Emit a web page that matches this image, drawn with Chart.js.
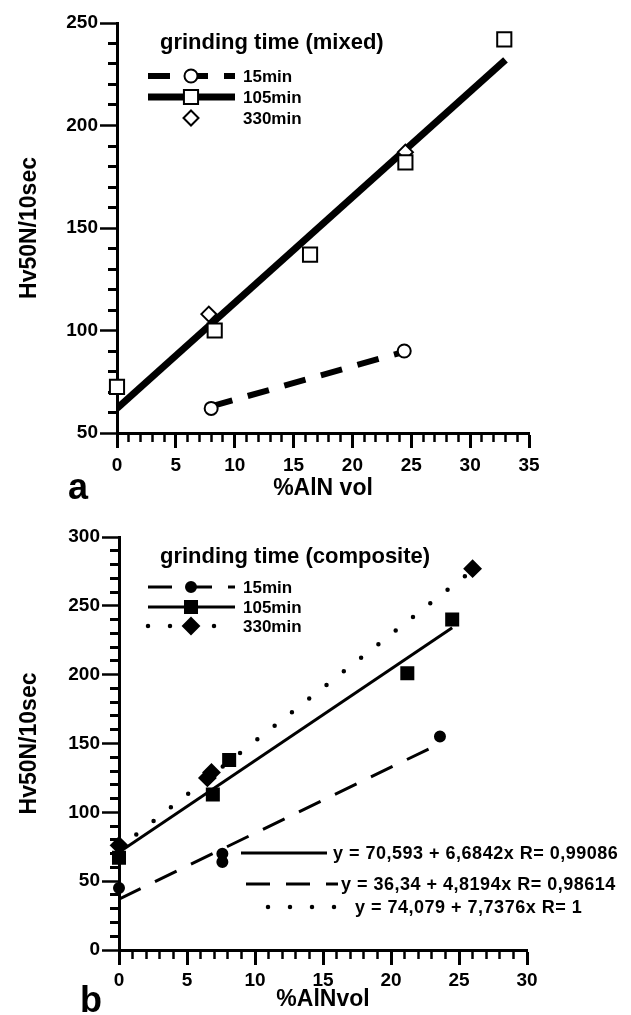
<!DOCTYPE html>
<html>
<head>
<meta charset="utf-8">
<script src="https://cdn.jsdelivr.net/npm/chart.js@4.4.0/dist/chart.umd.min.js"></script>
<style>
  body { margin: 0; background: #fff; width: 631px; height: 1015px; overflow: hidden; position: relative; }
  .panel { position: absolute; left: 0; width: 631px; height: 505px; }
  #wrapA { top: 0; }
  #wrapB { top: 508px; }
</style>
</head>
<body>
<div class="panel" id="wrapA"><canvas id="chartA" width="631" height="505"></canvas></div>
<div class="panel" id="wrapB"><canvas id="chartB" width="631" height="505"></canvas></div>
<script>
// panel a: mixed powders
const mixedX15 = [8, 24.4];
const mixedY15 = [62, 90];
const mixedX105 = [0, 8.3, 16.4, 24.5, 32.9];
const mixedY105 = [72.5, 100, 137, 182, 242];
const mixedX330 = [7.8, 24.5];
const mixedY330 = [108, 187];
const mixedFit15 = [[8, 63], [24, 89]];
const mixedFit105 = [[0, 62], [33, 232]];

// panel b: composite powders
const compX15 = [0, 7.6, 7.6, 23.6];
const compY15 = [45, 70, 64, 155];
const compX105 = [0, 6.9, 8.1, 21.2, 24.5];
const compY105 = [67, 113, 138, 201, 240];
const compX330 = [0, 6.5, 6.8, 26];
const compY330 = [76, 125, 129, 277];
const compFit15 = [[0, 37], [23.6, 150]];
const compFit105 = [[0, 71], [24.5, 234]];
const compFit330 = [[0, 74], [26, 276]];

const seriesLabels = ['15min', '105min', '330min'];
const fitEquations = [
    'y = 70,593 + 6,6842x R= 0,99086',
    'y = 36,34 + 4,8194x R= 0,98614',
    'y = 74,079 + 7,7376x R= 1'
];

const FONT = '"Liberation Sans", Arial, Helvetica, sans-serif';

const toPoints = (xs, ys) => xs.map((x, i) => ({ x: x, y: ys[i] }));
const toLine = pairs => pairs.map(p => ({ x: p[0], y: p[1] }));

function pointSet(label, data, style, radius, fill) {
    return {
        label: label, data: data, showLine: false, clip: false, order: 0,
        pointStyle: style, pointRadius: radius, pointHoverRadius: radius,
        pointBackgroundColor: fill, pointBorderColor: '#000', pointBorderWidth: 2
    };
}

function fitSet(label, data, width, dash, cap) {
    return {
        label: label, data: data, showLine: true, order: 1,
        pointRadius: 0, borderColor: '#000', borderWidth: width,
        borderDash: dash, borderCapStyle: cap || 'butt', tension: 0, fill: false
    };
}

function drawMarker(ctx, ds, x, y) {
    const r = ds.pointRadius;
    ctx.save();
    ctx.setLineDash([]);
    ctx.beginPath();
    if (ds.pointStyle === 'circle') {
        ctx.arc(x, y, r, 0, Math.PI * 2);
    } else if (ds.pointStyle === 'rect') {
        const h = r * Math.SQRT1_2;
        ctx.rect(x - h, y - h, 2 * h, 2 * h);
    } else {
        ctx.moveTo(x, y - r); ctx.lineTo(x + r, y); ctx.lineTo(x, y + r); ctx.lineTo(x - r, y); ctx.closePath();
    }
    ctx.fillStyle = ds.pointBackgroundColor;
    ctx.fill();
    ctx.lineWidth = ds.pointBorderWidth;
    ctx.strokeStyle = '#000';
    ctx.stroke();
    ctx.restore();
}

function drawSample(ctx, ds, x1, x2, y) {
    ctx.save();
    ctx.strokeStyle = '#000';
    ctx.lineWidth = ds.borderWidth;
    ctx.lineCap = ds.borderCapStyle || 'butt';
    ctx.setLineDash(ds.borderDash || []);
    ctx.beginPath();
    ctx.moveTo(x1, y);
    ctx.lineTo(x2, y);
    ctx.stroke();
    ctx.restore();
}

// legend, panel letter and fit equations drawn on top of the chart
function makeOverlay(cfg) {
    return {
        id: 'overlay' + cfg.letter,
        afterDraw(chart) {
            const ctx = chart.ctx;
            const sets = chart.data.datasets;
            ctx.save();
            ctx.fillStyle = '#000';
            ctx.textBaseline = 'middle';
            ctx.textAlign = 'left';
            ctx.font = 'bold 22px ' + FONT;
            ctx.fillText(cfg.title, 160, cfg.titleY);

            cfg.entries.forEach(e => {
                if (e.line !== null) drawSample(ctx, sets[e.line], 148, 235, e.y);
                drawMarker(ctx, sets[e.points], 191, e.y);
                ctx.fillStyle = '#000';
                ctx.font = 'bold 17px ' + FONT;
                ctx.fillText(sets[e.points].label, 243, e.y + 1);
            });

            (cfg.equations || []).forEach(e => {
                drawSample(ctx, sets[e.line], e.x1, e.x2, e.y);
                ctx.fillStyle = '#000';
                ctx.font = 'bold 18px ' + FONT;
                ctx.letterSpacing = '0.5px';
                ctx.fillText(e.text, e.tx, e.y + 1);
                ctx.letterSpacing = '0px';
            });

            ctx.font = 'bold 36px ' + FONT;
            ctx.textBaseline = 'alphabetic';
            ctx.fillText(cfg.letter, cfg.letterX, cfg.letterY);
            ctx.restore();
        }
    };
}

function scaleOptions(cfg) {
    const tickFont = { family: FONT, size: 19, weight: 'bold' };
    const titleFont = { family: FONT, size: 23, weight: 'bold', lineHeight: 1.2 };
    return {
        x: {
            type: 'linear', min: 0, max: cfg.xMax,
            afterFit: s => { s.height = cfg.xAxisHeight; },
            border: { display: true, color: '#000', width: 3 },
            grid: {
                drawOnChartArea: false, drawTicks: true, tickLength: 15, tickColor: '#000',
                tickWidth: c => (c.tick && c.tick.value % 5 === 0) ? 3 : 2.5,
                tickBorderDash: c => (c.tick && c.tick.value % 5 === 0) ? [] : [7, 100]
            },
            ticks: {
                stepSize: 1, autoSkip: false, maxRotation: 0, minRotation: 0,
                padding: cfg.xTickPad, color: '#000', font: tickFont,
                callback: v => (v % 5 === 0 ? String(v) : '')
            },
            title: {
                display: true, text: cfg.xTitle, color: '#000', font: titleFont,
                padding: { top: 0, bottom: cfg.xTitlePad }
            }
        },
        y: {
            type: 'linear', min: cfg.yMin, max: cfg.yMax,
            afterFit: s => { s.width = cfg.yAxisWidth; },
            border: { display: true, color: '#000', width: 3 },
            grid: {
                drawOnChartArea: false, drawTicks: true, tickLength: 17, tickColor: '#000',
                tickWidth: c => (c.tick && c.tick.value % 50 === 0) ? 2.5 : 3,
                tickBorderDash: c => (c.tick && c.tick.value % 50 === 0) ? [] : [0, 8, 9, 100]
            },
            ticks: {
                stepSize: 10, autoSkip: false, padding: 2, color: '#000', font: tickFont,
                callback: v => (v % 50 === 0 ? String(v) : '')
            },
            title: {
                display: true, text: 'Hv50N/10sec', color: '#000', font: titleFont,
                padding: { top: 16, bottom: 0 }
            }
        }
    };
}

function makeChart(canvasId, datasets, cfg) {
    return new Chart(document.getElementById(canvasId), {
        type: 'scatter',
        data: { datasets: datasets },
        options: {
            responsive: false,
            animation: false,
            events: [],
            layout: { padding: { top: cfg.padTop, right: cfg.padRight, left: 0, bottom: 0 } },
            scales: scaleOptions(cfg),
            plugins: { legend: { display: false }, tooltip: { enabled: false } }
        },
        plugins: [makeOverlay(cfg)]
    });
}

// panel a
makeChart('chartA', [
    pointSet(seriesLabels[0], toPoints(mixedX15, mixedY15), 'circle', 6.5, '#fff'),
    pointSet(seriesLabels[1], toPoints(mixedX105, mixedY105), 'rect', 10, '#fff'),
    pointSet(seriesLabels[2], toPoints(mixedX330, mixedY330), 'rectRot', 7.5, '#fff'),
    fitSet('fit 15min', toLine(mixedFit15), 6, [22, 16]),
    fitSet('fit 105min', toLine(mixedFit105), 7, [])
], {
    letter: 'a', letterX: 68, letterY: 499,
    title: 'grinding time (mixed)', titleY: 43,
    entries: [
        { points: 0, line: 3, y: 76 },
        { points: 1, line: 4, y: 97 },
        { points: 2, line: null, y: 118 }
    ],
    xMax: 35, yMin: 50, yMax: 250, xTitle: '%AlN vol',
    padTop: 23, padRight: 102, yAxisWidth: 117, xAxisHeight: 72,
    xTickPad: 6, xTitlePad: 3
});

// panel b
makeChart('chartB', [
    pointSet(seriesLabels[0], toPoints(compX15, compY15), 'circle', 5, '#000'),
    pointSet(seriesLabels[1], toPoints(compX105, compY105), 'rect', 8.5, '#000'),
    pointSet(seriesLabels[2], toPoints(compX330, compY330), 'rectRot', 8, '#000'),
    fitSet('fit 15min', toLine(compFit15), 3, [24, 16]),
    fitSet('fit 105min', toLine(compFit105), 3, []),
    fitSet('fit 330min', toLine(compFit330), 4.5, [0, 22], 'round')
], {
    letter: 'b', letterX: 80, letterY: 504,
    title: 'grinding time (composite)', titleY: 49,
    entries: [
        { points: 0, line: 3, y: 79 },
        { points: 1, line: 4, y: 99 },
        { points: 2, line: 5, y: 118 }
    ],
    equations: [
        { line: 4, text: fitEquations[0], y: 345, x1: 241, x2: 327, tx: 333 },
        { line: 3, text: fitEquations[1], y: 376, x1: 246, x2: 338, tx: 341 },
        { line: 5, text: fitEquations[2], y: 399, x1: 268, x2: 347, tx: 355 }
    ],
    xMax: 30, yMin: 0, yMax: 300, xTitle: '%AlNvol',
    padTop: 29, padRight: 104, yAxisWidth: 119, xAxisHeight: 63,
    xTickPad: 4, xTitlePad: 0
});
</script>
</body>
</html>
